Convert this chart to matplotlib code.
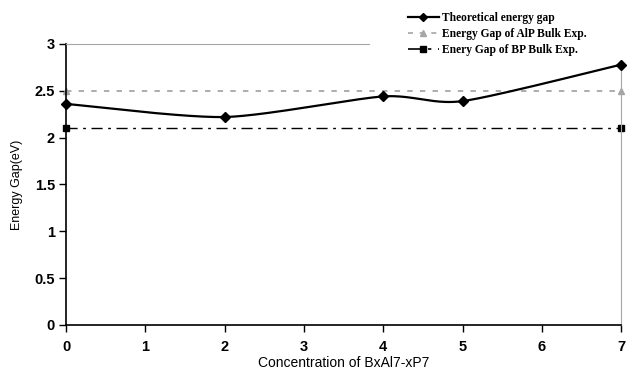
import numpy as np
import matplotlib.pyplot as plt
from matplotlib.lines import Line2D

# data
conc = [0, 2, 4, 5, 7]
gap_theory = [2.36, 2.22, 2.44, 2.39, 2.78]
alp_x = [0, 7]
alp_gap = [2.5, 2.5]
bp_x = [0, 7]
bp_gap = [2.1, 2.1]

x_ticks = [0, 1, 2, 3, 4, 5, 6, 7]
y_ticks = [0, 0.5, 1, 1.5, 2, 2.5, 3]
y_tick_labels = ["0", "0.5", "1", "1.5", "2", "2.5", "3"]


def smooth(xs, ys, n=40, k=0.75):
    """Cubic Bezier curve through the points (like Excel's smoothed line)."""
    p = np.column_stack([xs, ys]).astype(float)
    ext = np.vstack([p[0], p, p[-1]])
    t = np.linspace(0, 1, n)[:, None]
    out = []
    for i in range(len(p) - 1):
        p0, p1, p2, p3 = ext[i], ext[i + 1], ext[i + 2], ext[i + 3]
        c1 = p1 + k * (p2 - p0) / 6
        c2 = p2 - k * (p3 - p1) / 6
        seg = ((1 - t) ** 3 * p1 + 3 * (1 - t) ** 2 * t * c1
               + 3 * (1 - t) * t ** 2 * c2 + t ** 3 * p2)
        out.append(seg)
    out = np.vstack(out)
    return out[:, 0], out[:, 1]


fig = plt.figure(figsize=(6.3, 3.76), dpi=100)
ax = fig.add_axes([0.105, 0.136, 0.881, 0.747])

ax.plot(alp_x, alp_gap, color="#a6a6a6", lw=1.3, ls=(0, (3, 4)),
        marker="^", ms=5, mfc="#a6a6a6", mec="#a6a6a6", clip_on=False, zorder=2)
ax.plot(bp_x, bp_gap, color="black", lw=1.0, ls=(0, (8, 4, 2, 4)),
        marker="s", ms=4.5, mfc="black", clip_on=False, zorder=2)
sx, sy = smooth(conc, gap_theory)
ax.plot(sx, sy, color="black", lw=1.6, zorder=3, clip_on=False)
ax.plot(conc, gap_theory, ls="none", marker="D", ms=5.5, color="black",
        clip_on=False, zorder=4)

ax.set_xlim(0, 7)
ax.set_ylim(0, 3)
ax.set_xticks(x_ticks)
ax.set_yticks(y_ticks)
ax.set_yticklabels(y_tick_labels)

for lab in ax.get_xticklabels() + ax.get_yticklabels():
    lab.set_fontfamily("Liberation Sans")
    lab.set_fontweight("bold")
    lab.set_fontsize(10.5)
ax.tick_params(axis="both", direction="out", length=5, width=1, color="black")
ax.tick_params(axis="x", pad=6)
ax.tick_params(axis="y", pad=3)

ax.spines["left"].set_color("black")
ax.spines["bottom"].set_color("black")
ax.spines["left"].set_linewidth(1.2)
ax.spines["bottom"].set_linewidth(1.2)
ax.spines["top"].set_color("#a6a6a6")
ax.spines["right"].set_color("#a6a6a6")
ax.spines["top"].set_bounds(0, 3.82)
ax.spines["right"].set_bounds(0, 2.78)

ax.set_xlabel("Concentration of BxAl7-xP7", fontfamily="Liberation Sans",
              fontsize=10, labelpad=1)
ax.set_ylabel("Energy Gap(eV)", fontfamily="Liberation Sans", fontsize=9,
              labelpad=8)

handles = [
    Line2D([], [], color="black", lw=1.6, marker="D", ms=4.5),
    Line2D([], [], color="#a6a6a6", lw=1.2, ls=(0, (3, 4)), marker="^", ms=4.5),
    Line2D([], [], color="black", lw=1.2, ls=(0, (8, 4, 2, 4)), marker="s", ms=4),
]
labels = ["Theoretical energy gap", "Energy Gap of AlP Bulk Exp.",
          "Enery Gap of BP Bulk Exp."]
fig.legend(handles, labels, loc="upper left", bbox_to_anchor=(0.631, 0.995),
           frameon=False, handlelength=2.7, handletextpad=0.3,
           labelspacing=0.35,
           prop={"family": "Liberation Serif", "weight": "bold", "size": 8.3})

fig.savefig("out.png", dpi=100)
